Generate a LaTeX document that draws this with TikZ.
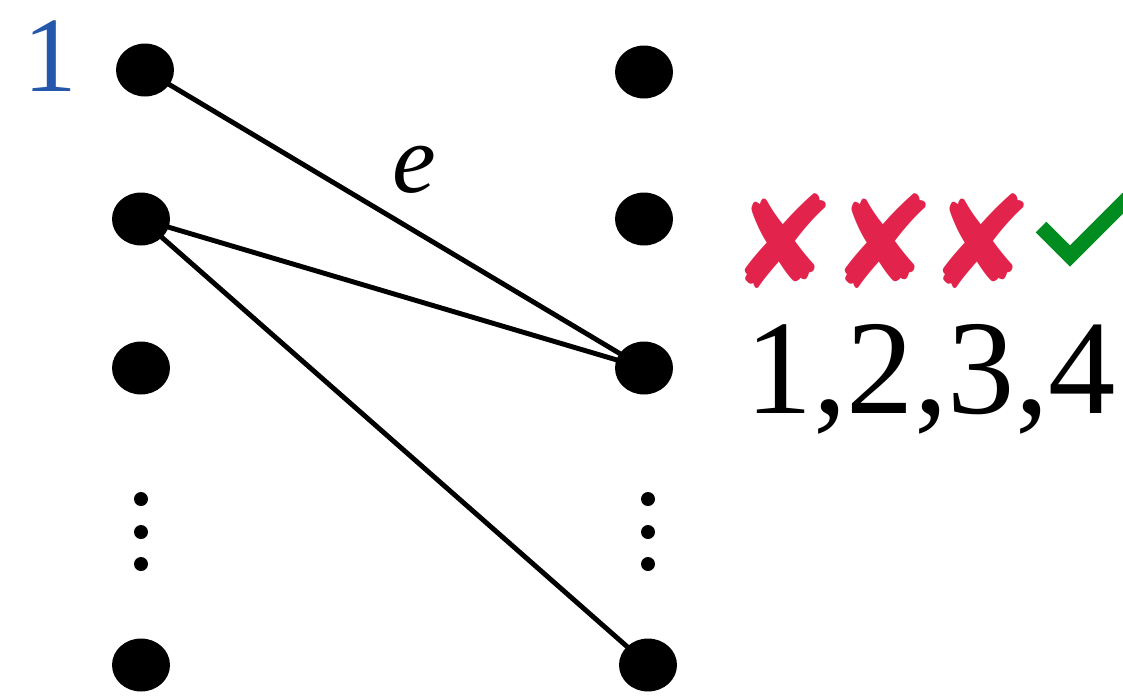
\documentclass[tikz,border=0pt]{standalone}
\usepackage{fontspec}
\setmainfont{Liberation Serif}
\newfontfamily\marksfont{DejaVu Sans}
\usepackage{xcolor}
\usetikzlibrary{shapes.geometric}
\definecolor{labelblue}{RGB}{37,87,170}
\definecolor{nored}{RGB}{226,35,75}
\definecolor{yesgreen}{RGB}{0,140,30}

\begin{document}
\begin{tikzpicture}[
  x=0.02cm, y=-0.02cm,
  vertex/.style={
    draw=none, ellipse, fill=black, inner sep=0pt,
    minimum width=1.16cm, minimum height=1.06cm
  },
  smalldot/.style={circle, fill=black, inner sep=0pt, minimum size=0.28cm},
  edge/.style={line width=2.8pt},
  cross/.style={font=\marksfont\fontsize{73}{73}\selectfont, text=nored, inner sep=0pt},
  tick/.style={draw=yesgreen, line width=0.3cm, line join=miter}
]
\useasboundingbox (0,0) rectangle (1123,698);

% --- left column ---
\node[vertex] (l1) at (145,70) {};
\node[vertex] (l2) at (141,219) {};
\node[vertex] (l3) at (141,368) {};
\node[vertex] (l4) at (141,665) {};
\node[smalldot] (ld1) at (141,499) {};
\node[smalldot] (ld2) at (141,532) {};
\node[smalldot] (ld3) at (141,564) {};

% --- right column ---
\node[vertex] (r1) at (644,72) {};
\node[vertex] (r2) at (644,219) {};
\node[vertex] (r3) at (644,368) {};
\node[vertex] (r4) at (648,665) {};
\node[smalldot] (rd1) at (648,499) {};
\node[smalldot] (rd2) at (648,532) {};
\node[smalldot] (rd3) at (648,564) {};

% --- edges ---
\draw[edge] (l1.center) -- (r3.center);
\draw[edge] (l2.center) -- (r3.center);
\draw[edge] (l2.center) -- (r4.center);

% --- labels ---
\node[anchor=base, text=labelblue, font=\fontsize{61}{61}\selectfont, inner sep=0pt] (one) at (50,91) {1};
\node[anchor=base, font=\fontsize{56}{56}\selectfont\itshape, inner sep=0pt] (elabel) at (414,192) {e};

\foreach \cx [count=\i] in {783,883,981}
  \node[cross] (x\i) at (\cx,241) {✘};
% check mark, cut by the right edge
\coordinate (okleft) at (1041,227);
\coordinate (okbottom) at (1070,256);
\coordinate (okright) at (1128,198);
\draw[tick] (okleft) -- (okbottom) -- (okright);

\node[anchor=base, font=\fontsize{76.6}{77}\selectfont, inner sep=0pt] (tries) at (931,413) {1,2,3,4};

\end{tikzpicture}
\end{document}
